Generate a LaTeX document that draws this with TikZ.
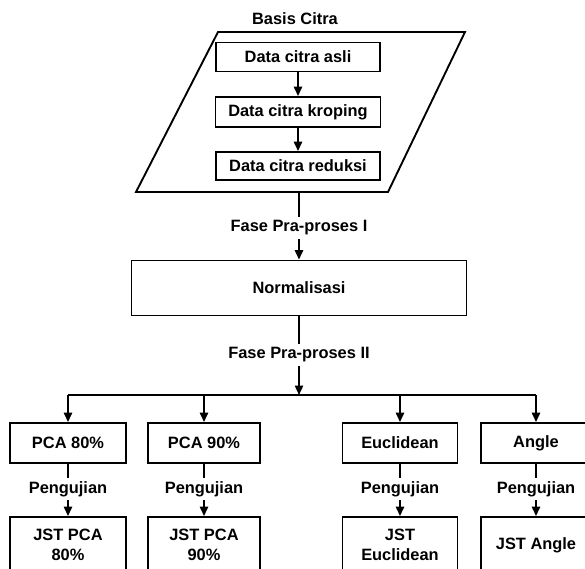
\documentclass[tikz,border=0pt]{standalone}
\usepackage{fontspec}
\setmainfont{Liberation Sans}
\usetikzlibrary{arrows.meta,positioning}

\tikzset{
  box/.style={rectangle, draw, line width=1.6pt, align=center, font=\bfseries\fontsize{14}{17.5}\selectfont},
  lbl/.style={inner sep=3pt, font=\bfseries\fontsize{14}{17}\selectfont},
  ln/.style={line width=1.6pt},
  arr/.style={line width=1.6pt, -{Triangle[length=8pt,width=7pt]}}
}

\begin{document}
\begin{tikzpicture}[x=0.03cm,y=-0.03cm]
    \clip (0,0) rectangle (585,569);

    % Basis citra
    \node[lbl] (basis) at (295,19) {Basis Citra};
    \draw[ln] (218,32) -- (465,32) -- (388,192) -- (136,192) -- cycle;
    \coordinate (basisbot) at (299,192);

    \node[box, minimum width=4.9cm, minimum height=0.87cm] (asli) at (298,57) {Data citra asli};
    \node[box, minimum width=4.95cm, minimum height=0.9cm] (kroping) at (298,112) {Data citra kroping};
    \node[box, minimum width=4.9cm, minimum height=0.84cm] (reduksi) at (298,166) {Data citra reduksi};
    \draw[arr] (asli) -- (kroping);
    \draw[arr] (kroping) -- (reduksi);

    % Pra-proses
    \node[lbl] (fase1) at (299,228) {Fase Pra-proses I};
    \node[box, minimum width=10.05cm, minimum height=1.65cm] (norm) at (299,288) {Normalisasi};
    \draw[ln] (basisbot) -- (fase1);
    \draw[arr] (fase1) -- (norm);

    \node[lbl] (fase2) at (299,355) {Fase Pra-proses II};
    \coordinate (bar) at (299,395);
    \draw[ln] (norm) -- (fase2);
    \draw[arr] (fase2) -- (bar);

    % Metode
    \node[box, minimum width=3.48cm, minimum height=1.2cm] (pca80) at (68,443) {PCA 80\%};
    \node[box, minimum width=3.36cm, minimum height=1.2cm] (pca90) at (204,443) {PCA 90\%};
    \node[box, minimum width=3.45cm, minimum height=1.2cm] (eucl) at (400,443) {Euclidean};
    \node[box, minimum width=3.3cm, minimum height=1.2cm] (angle) at (536,443) {Angle};

    \draw[ln] (pca80.north |- bar) -- (angle.north |- bar);
    \draw[arr] (pca80.north |- bar) -- (pca80);
    \draw[arr] (pca90.north |- bar) -- (pca90);
    \draw[arr] (eucl.north |- bar) -- (eucl);
    \draw[arr] (angle.north |- bar) -- (angle);

    % Pengujian
    \node[lbl] (uji1) at (68,489) {Pengujian};
    \node[lbl] (uji2) at (204,489) {Pengujian};
    \node[lbl] (uji3) at (400,489) {Pengujian};
    \node[lbl] (uji4) at (536,489) {Pengujian};

    \node[box, minimum width=3.48cm, minimum height=1.68cm] (jst1) at (68,545) {JST PCA\\80\%};
    \node[box, minimum width=3.36cm, minimum height=1.68cm] (jst2) at (204,545) {JST PCA\\90\%};
    \node[box, minimum width=3.45cm, minimum height=1.68cm] (jst3) at (400,545) {JST\\Euclidean};
    \node[box, minimum width=3.3cm, minimum height=1.68cm] (jst4) at (536,545) {JST Angle};

    \draw[ln] (pca80) -- (uji1);
    \draw[arr] (uji1) -- (jst1);
    \draw[ln] (pca90) -- (uji2);
    \draw[arr] (uji2) -- (jst2);
    \draw[ln] (eucl) -- (uji3);
    \draw[arr] (uji3) -- (jst3);
    \draw[ln] (angle) -- (uji4);
    \draw[arr] (uji4) -- (jst4);
\end{tikzpicture}
\end{document}
